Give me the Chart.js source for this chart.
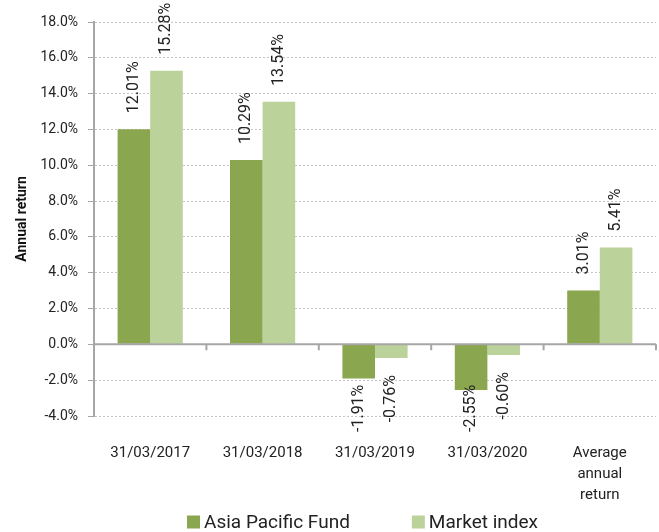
<!DOCTYPE html>
<html>
<head>
<meta charset="utf-8">
<script src="https://cdn.jsdelivr.net/npm/chart.js@4"></script>
<style>
  html, body { margin: 0; padding: 0; background: #fff; }
  #wrap { width: 659px; height: 532px; }
</style>
</head>
<body>
<div id="wrap"><canvas id="myChart"></canvas></div>
<script>
const categories = ["31/03/2017", "31/03/2018", "31/03/2019", "31/03/2020", ["Average", "annual", "return"]];
const fundValues = [12.01, 10.29, -1.91, -2.55, 3.01];
const indexValues = [15.28, 13.54, -0.76, -0.60, 5.41];
const seriesNames = ["Asia Pacific Fund", "Market index"];
const seriesColors = ["#8aa64f", "#bcd29b"];

// zero line with category ticks, rotated value labels, and the legend
const extras = {
    id: "extras",
    afterDatasetsDraw(chart) {
        const ctx = chart.ctx;
        const x = chart.scales.x;
        const y = chart.scales.y;
        const zeroY = y.getPixelForValue(0);

        ctx.save();
        ctx.strokeStyle = "#a6a6a6";
        ctx.lineWidth = 2;
        ctx.beginPath();
        ctx.moveTo(x.left, zeroY);
        ctx.lineTo(x.right, zeroY);
        for (let i = 1; i <= categories.length; i++) {
            const px = x.left + (x.right - x.left) * i / categories.length;
            ctx.moveTo(px, zeroY);
            ctx.lineTo(px, zeroY + 6);
        }
        ctx.stroke();
        ctx.restore();

        ctx.save();
        ctx.font = "16px Roboto";
        ctx.fillStyle = "#222";
        ctx.textBaseline = "middle";
        chart.data.datasets.forEach((ds, di) => {
            chart.getDatasetMeta(di).data.forEach((bar, i) => {
                const v = ds.data[i];
                const txt = v.toFixed(2) + "%";
                const w = ctx.measureText(txt).width;
                ctx.save();
                if (v >= 0) {
                    ctx.translate(bar.x, bar.y - 16);
                    ctx.rotate(-Math.PI / 2);
                    ctx.textAlign = "left";
                    ctx.fillText(txt, 0, 0);
                } else {
                    // keep label from running too far under the plot
                    const top = Math.min(bar.y + 17, y.bottom + 16 - w);
                    ctx.translate(bar.x, top);
                    ctx.rotate(-Math.PI / 2);
                    ctx.textAlign = "right";
                    ctx.fillText(txt, 0, 0);
                }
                ctx.restore();
            });
        });
        ctx.restore();

        // legend: square swatch + name, wide gap between items
        ctx.save();
        ctx.font = "19px Roboto";
        ctx.textBaseline = "middle";
        ctx.textAlign = "left";
        const box = 13, gap = 4, between = 62;
        const widths = seriesNames.map(n => ctx.measureText(n).width);
        const total = widths.reduce((a, w) => a + box + gap + w, 0) + between;
        let lx = chart.width / 2 + 33 - total / 2;
        const ly = chart.height - 10;
        seriesNames.forEach((name, i) => {
            ctx.fillStyle = seriesColors[i];
            ctx.fillRect(lx, ly - box / 2, box, box);
            ctx.fillStyle = "#222";
            ctx.fillText(name, lx + box + gap, ly + 1);
            lx += box + gap + widths[i] + between;
        });
        ctx.restore();
    }
};

new Chart(document.getElementById("myChart"), {
    type: "bar",
    data: {
        labels: categories,
        datasets: [
            { label: seriesNames[0], data: fundValues, backgroundColor: seriesColors[0] },
            { label: seriesNames[1], data: indexValues, backgroundColor: seriesColors[1] }
        ]
    },
    options: {
        responsive: true,
        maintainAspectRatio: false,
        animation: false,
        layout: { padding: { top: 22, right: 3, left: 4, bottom: 28 } },
        datasets: {
            bar: { barPercentage: 1.0, categoryPercentage: 0.58 }
        },
        scales: {
            x: {
                afterFit(s) { s.height = 88; },
                grid: { display: false },
                border: { display: false },
                ticks: {
                    color: "#222",
                    font: { family: "Roboto", size: 15, lineHeight: 1.4 },
                    padding: 19,
                    maxRotation: 0,
                    autoSkip: false
                }
            },
            y: {
                min: -4,
                max: 18,
                afterFit(s) { s.width = 90; },
                ticks: {
                    stepSize: 2,
                    color: "#222",
                    font: { family: "Roboto", size: 14 },
                    padding: 10,
                    callback: v => v.toFixed(1) + "%"
                },
                grid: {
                    color: "#c4c4c4",
                    tickColor: "#a6a6a6",
                    tickLength: 6
                },
                border: { display: true, color: "#a6a6a6", width: 2, dash: [2, 2] },
                title: {
                    display: true,
                    text: "Annual return",
                    color: "#111",
                    font: { family: "Roboto", size: 14, weight: "bold" },
                    padding: { top: 10, bottom: 0 }
                }
            }
        },
        plugins: {
            legend: { display: false },
            tooltip: { enabled: false }
        }
    },
    plugins: [extras]
});
</script>
</body>
</html>
